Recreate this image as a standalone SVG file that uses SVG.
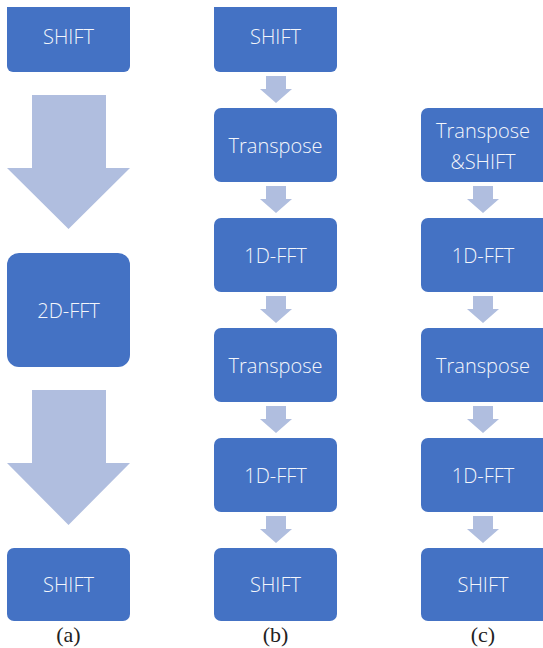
<svg xmlns="http://www.w3.org/2000/svg" width="543" height="648" viewBox="0 0 543 648">
<style>
.box{fill:#4472C4}
.arr{fill:#B0BEDF}
.t{font-family:"Open Sans","Noto Sans",sans-serif;font-weight:300;font-size:20px;fill:#F4F6FB;text-anchor:middle;dominant-baseline:central}
.lab{font-family:"Liberation Serif",serif;font-size:22px;fill:#222;text-anchor:middle}
</style>
<rect width="543" height="648" fill="#fff"/>
<defs>
<path id="sa" d="M-10,0 H10 V13 H16 L0,27 L-16,13 H-10 Z"/>
</defs>
<g id="connectors">
<path class="arr" d="M32,95 H106 V168 H130 L68.5,229 L7,168 H32 Z"/>
<path class="arr" d="M32,390 H106 V463 H130 L68.5,525 L7,463 H32 Z"/>
<use href="#sa" class="arr" x="276" y="76"/>
<use href="#sa" class="arr" x="276" y="186"/>
<use href="#sa" class="arr" x="276" y="296"/>
<use href="#sa" class="arr" x="276" y="406"/>
<use href="#sa" class="arr" x="276" y="516"/>
<use href="#sa" class="arr" x="483" y="186"/>
<use href="#sa" class="arr" x="483" y="296"/>
<use href="#sa" class="arr" x="483" y="406"/>
<use href="#sa" class="arr" x="483" y="516"/>
</g>
<g id="a1"><path class="box" d="M7,7 H130 V66 A6,6 0 0 1 124,72 H13 A6,6 0 0 1 7,66 Z"/><text class="t" x="68.5" y="36">SHIFT</text></g>
<g id="a2"><rect class="box" x="7" y="253" width="123" height="114" rx="12"/><text class="t" x="68.5" y="310">2D-FFT</text></g>
<g id="a3"><rect class="box" x="7" y="548" width="123" height="73" rx="7"/><text class="t" x="68.5" y="584">SHIFT</text></g>
<g id="b1"><path class="box" d="M214,7 H337 V66 A6,6 0 0 1 331,72 H220 A6,6 0 0 1 214,66 Z"/><text class="t" x="275.5" y="36">SHIFT</text></g>
<g id="b2"><rect class="box" x="214" y="108" width="123" height="74" rx="7"/><text class="t" x="275.5" y="145">Transpose</text></g>
<g id="b3"><rect class="box" x="214" y="218" width="123" height="74" rx="7"/><text class="t" x="275.5" y="255">1D-FFT</text></g>
<g id="b4"><rect class="box" x="214" y="328" width="123" height="74" rx="7"/><text class="t" x="275.5" y="365">Transpose</text></g>
<g id="b5"><rect class="box" x="214" y="438" width="123" height="74" rx="7"/><text class="t" x="275.5" y="475">1D-FFT</text></g>
<g id="b6"><rect class="box" x="214" y="548" width="123" height="73" rx="7"/><text class="t" x="275.5" y="584">SHIFT</text></g>
<g id="c1"><rect class="box" x="421" y="108" width="128" height="74" rx="7"/><text class="t" x="483" y="130">Transpose</text><text class="t" x="483" y="161">&amp;SHIFT</text></g>
<g id="c2"><rect class="box" x="421" y="218" width="128" height="74" rx="7"/><text class="t" x="483" y="255">1D-FFT</text></g>
<g id="c3"><rect class="box" x="421" y="328" width="128" height="74" rx="7"/><text class="t" x="483" y="365">Transpose</text></g>
<g id="c4"><rect class="box" x="421" y="438" width="128" height="74" rx="7"/><text class="t" x="483" y="475">1D-FFT</text></g>
<g id="c5"><rect class="box" x="421" y="548" width="128" height="73" rx="7"/><text class="t" x="483" y="584">SHIFT</text></g>
<g id="labels">
<text class="lab" x="68.5" y="642">(a)</text>
<text class="lab" x="275.5" y="642">(b)</text>
<text class="lab" x="483" y="642">(c)</text>
</g>
</svg>
